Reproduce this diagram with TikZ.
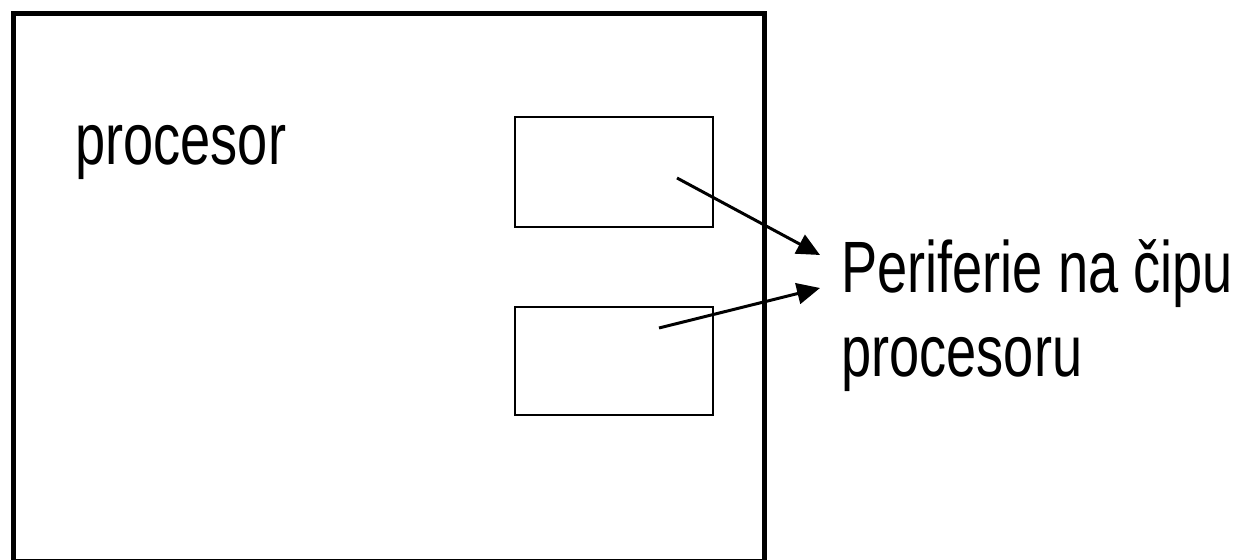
\documentclass[tikz,border=0pt]{standalone}
\usepackage{fontspec}
\setmainfont[FakeStretch=0.745]{Liberation Sans}
\usetikzlibrary{arrows.meta,calc,positioning}

\newcommand{\cpufont}{\fontsize{41.4}{48}\selectfont}

\begin{document}
\begin{tikzpicture}[x=0.02cm,y=-0.02cm]
    \useasboundingbox (0,0) rectangle (1238,560);
    {\cpufont
      \node(cpu) at (389,287.5) [draw,line width=2.8pt,minimum width=15.04cm,minimum height=10.98cm] {};

      \node(name) at (75,165) [anchor=base west,inner sep=0pt] {procesor};

      \node(per1) at (614,172) [draw,line width=1.1pt,minimum width=3.96cm,minimum height=2.2cm] {};
      \node(per2) at (614,361) [draw,line width=1.1pt,minimum width=3.96cm,minimum height=2.16cm] {};

      \node(lbl) at (841,293) [anchor=base west,inner sep=0pt] {Periferie na čipu};
      \node(lbl2) at (841,377) [anchor=base west,inner sep=0pt] {procesoru};

      \coordinate (p1) at (677,178);
      \coordinate (p2) at (659,328);
      \coordinate (t1) at (820,255);
      \coordinate (t2) at (820,288);

      \draw (p1) edge[-{Triangle[length=0.46cm,width=0.42cm]}, line width=1.7pt] (t1);
      \draw (p2) edge[-{Triangle[length=0.46cm,width=0.42cm]}, line width=1.7pt] (t2);
    }
\end{tikzpicture}
\end{document}
